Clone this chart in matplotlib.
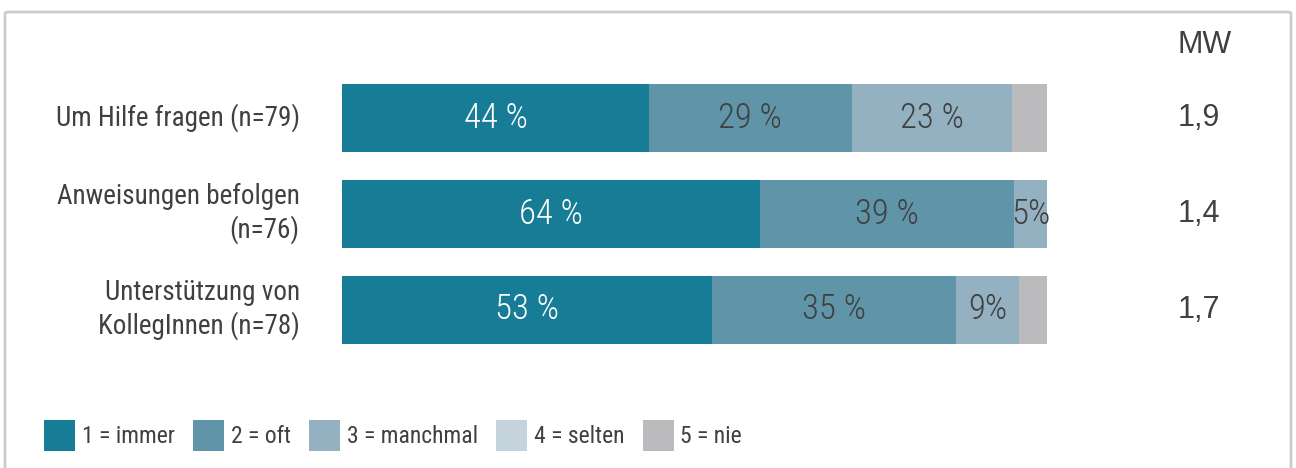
import matplotlib.pyplot as plt
from matplotlib.patches import Patch, FancyBboxPatch

# data
categories = ["Um Hilfe fragen (n=79)", "Anweisungen befolgen\n(n=76)",
              "Unterstützung von\nKollegInnen (n=78)"]
legend_labels = ["1 = immer", "2 = oft", "3 = manchmal", "4 = selten", "5 = nie"]
immer = [44, 64, 53]
oft = [29, 39, 35]
manchmal = [23, 5, 9]
selten = [0, 0, 0]
nie = [5, 0, 4]
mw = ["1,9", "1,4", "1,7"]
# shown labels (small pieces get no space)
labels = [["44 %", "29 %", "23 %", "", ""],
          ["64 %", "39 %", "5%", "", ""],
          ["53 %", "35 %", "9%", "", ""]]

colors = ["#177c95", "#6094a9", "#93b1c1", "#c5d3dc", "#bbbbbd"]
txt = "#404040"
narrow = ["Roboto Condensed", "Archivo Narrow", "DejaVu Sans"]
plt.rcParams["font.family"] = narrow

fig = plt.figure(figsize=(12.96, 4.68), dpi=100)
W, H = 1296, 468

# outer frame
frame = FancyBboxPatch((5 / W, -0.05), 1286 / W, 1.05 - 12 / H,
                       boxstyle="round,pad=0,rounding_size=0.003",
                       transform=fig.transFigure, fill=False,
                       edgecolor="#cccccc", linewidth=2)
fig.patches.append(frame)

ax = fig.add_axes([342 / W, 1 - 357.4 / H, 705 / W, 287.3 / H])
series = [immer, oft, manchmal, selten, nie]
ypos = list(range(len(categories)))
left = [0.0] * len(categories)
totals = [sum(s[i] for s in series) for i in ypos]
for k, s in enumerate(series):
    w = [s[i] / totals[i] for i in ypos]
    ax.barh(ypos, w, left=left, height=0.71, color=colors[k],
            label=legend_labels[k])
    for i in ypos:
        if labels[i][k]:
            ax.text(left[i] + w[i] / 2, i, labels[i][k], ha="center",
                    va="center", fontsize=25, weight="light",
                    color="white" if k == 0 else txt)
    left = [left[i] + w[i] for i in ypos]

ax.set_xlim(0, 1)
ax.set_ylim(2.5, -0.5)
ax.axis("off")

for i, c in enumerate(categories):
    ax.text(-0.06, i, c, ha="right", va="center", fontsize=19.5,
            color=txt, linespacing=1.22)
    ax.text(1.2156, i, mw[i], ha="center", va="center", fontsize=22,
            color=txt, family=["Liberation Sans", "DejaVu Sans"])

fig.text(1205 / W, 1 - 45 / H, "MW", ha="center", va="center",
         fontsize=22, color=txt, family=["Liberation Sans", "DejaVu Sans"])

handles = [Patch(facecolor=c) for c in colors]
fs = 17
px = fs * 100 / 72
fig.legend(handles, legend_labels, loc="center left",
           bbox_to_anchor=(44 / W, 1 - 435.5 / H), ncol=5, frameon=False,
           prop={"size": fs}, handlelength=31 / px,
           handleheight=1.64, handletextpad=7 / px, columnspacing=18 / px,
           borderpad=0, borderaxespad=0, labelcolor=txt)

fig.savefig("out.png", dpi=100)
